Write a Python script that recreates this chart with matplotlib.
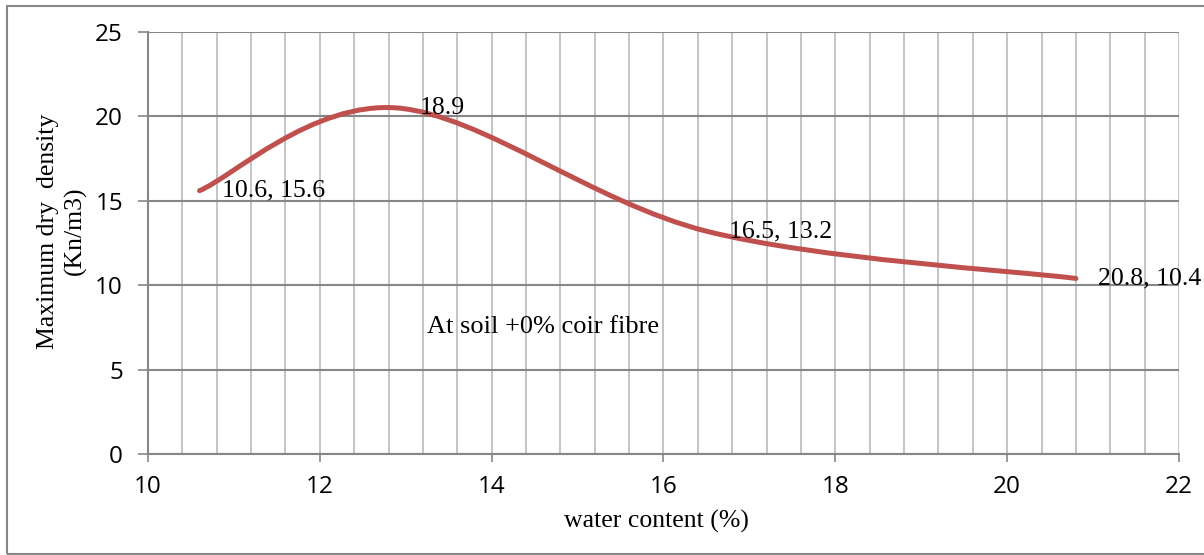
import matplotlib
matplotlib.use('Agg')
import matplotlib.pyplot as plt
from matplotlib.path import Path
from matplotlib.patches import PathPatch, Rectangle
import numpy as np

plt.rcParams['font.family'] = ['Open Sans', 'DejaVu Sans']

# Data
water = [10.6, 12.9, 16.5, 20.8]
density = [15.6, 20.5, 13.2, 10.4]
point_labels = ["10.6, 15.6", "18.9", "16.5, 13.2", "20.8, 10.4"]
x_ticks = [10, 12, 14, 16, 18, 20, 22]
y_ticks = [0, 5, 10, 15, 20, 25]
note = "At soil +0% coir fibre"
x_title = "water content (%)"
y_title = "Maximum dry  density\n(Kn/m3)"

W, H = 1204, 555
fig = plt.figure(figsize=(W / 100, H / 100), dpi=100)
ax = fig.add_axes([148 / W, (H - 454) / H, (1179 - 148) / W, (454 - 32) / H])
ax.set_xlim(10, 22)
ax.set_ylim(0, 25)

# smoothed line (Excel-style Bezier smoothing through the data points)
pts = np.column_stack([water, density])
n = len(pts)
verts = [pts[0]]
codes = [Path.MOVETO]
for i in range(n - 1):
    p_prev = pts[i - 1] if i > 0 else pts[i]
    p0 = pts[i]
    p1 = pts[i + 1]
    p_next = pts[i + 2] if i + 2 < n else pts[i + 1]
    c1 = p0 + (p1 - p_prev) / 6.0
    c2 = p1 - (p_next - p0) / 6.0
    verts += [c1, c2, p1]
    codes += [Path.CURVE4] * 3
patch = PathPatch(Path(verts, codes), facecolor='none', edgecolor='#C0504D',
                  lw=3.6, capstyle='round', joinstyle='round', zorder=3)
ax.add_patch(patch)

for x, y, lbl in zip(water, density, point_labels):
    ax.annotate(lbl, (x, y), xytext=(16, 0), textcoords='offset points',
                ha='left', va='center', fontsize=18.5, family='Liberation Serif',
                color='black', zorder=4, annotation_clip=False)

ax.text(13.25, 7.52, note, ha='left', va='center', fontsize=19,
        family='Liberation Serif', color='black')

# grid / ticks
ax.set_xticks(x_ticks)
ax.set_yticks(y_ticks)
ax.set_xticks(np.arange(10, 22.001, 0.4), minor=True)
ax.tick_params(axis='x', which='minor', length=0)
ax.grid(axis='x', which='both', color='#BFBFBF', lw=1.3, zorder=0)
ax.grid(axis='y', which='major', color='#878787', lw=1.5, zorder=0)
ax.set_axisbelow(True)
for s in ['top', 'right']:
    ax.spines[s].set_visible(False)
for s in ['left', 'bottom']:
    ax.spines[s].set_color('#878787')
    ax.spines[s].set_linewidth(1.5)
ax.tick_params(axis='y', which='major', direction='out', length=7, width=1.2,
               color='#878787', pad=11, labelsize=17.5)
ax.tick_params(axis='x', which='major', direction='out', length=6, width=1.2,
               color='#878787', pad=9, labelsize=17.5)

fig.text(656 / W, (H - 521) / H, x_title, ha='center', va='center',
         fontsize=18.5, family='Liberation Serif')
fig.text(62 / W, (H - 231) / H, y_title, ha='center', va='center',
         rotation=90, fontsize=18.5, family='Liberation Serif', linespacing=1.32,
         multialignment='center')

# outer chart border
fig.add_artist(Rectangle((7 / W, 1 / H), (W + 10) / W, (H - 6.5) / H,
                         transform=fig.transFigure, fill=False,
                         ec='#878787', lw=1.5))

fig.savefig('out.png', dpi=100)
